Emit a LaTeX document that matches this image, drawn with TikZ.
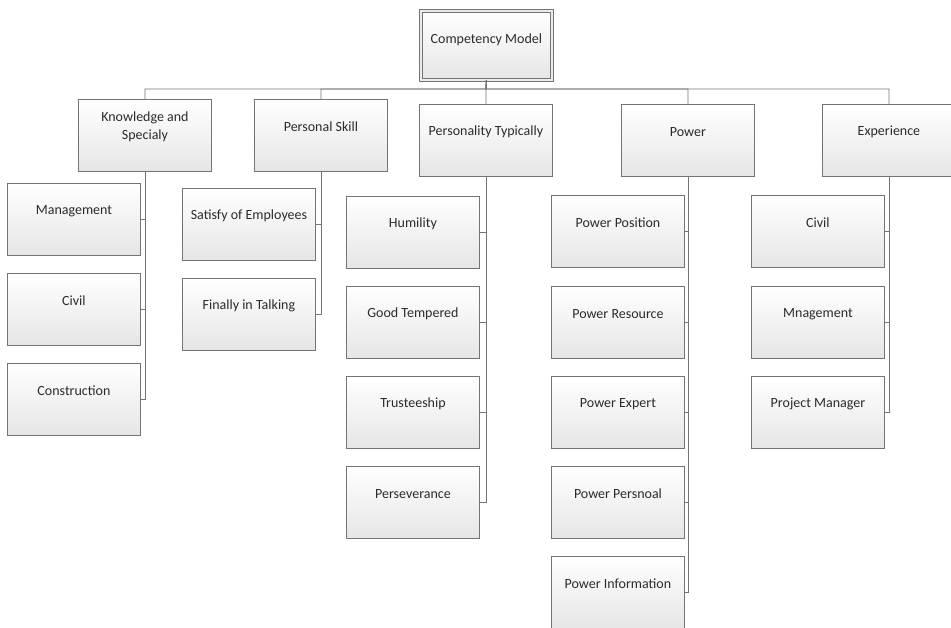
\documentclass[tikz,border=0pt]{standalone}
\usepackage{fontspec}
\setmainfont{Carlito}
\definecolor{edgec}{HTML}{747474}
\definecolor{txtc}{HTML}{2B2B2B}
\tikzset{
  box/.style={draw=edgec, line width=0.9pt, top color=white, bottom color=black!10,
    minimum width=133pt, minimum height=72pt, inner sep=0pt, anchor=north west},
  rootbox/.style={box, double=white!92!black, double distance=1.8pt, line width=0.8pt, minimum width=131pt, minimum height=69pt},
  lab/.style={anchor=center, yshift=-28pt, text=txtc, font=\fontsize{14}{18}\selectfont, align=center, inner sep=0pt},
  link/.style={draw=edgec, line width=0.9pt}
}
\begin{document}
\begin{tikzpicture}[x=1pt,y=-1pt]
\useasboundingbox (0,0) rectangle (951,627);
\clip (0,0) rectangle (951,627);
% root
\node[rootbox, label={[lab,yshift=-1pt]north:Competency Model}] (root) at (420.5,10.5) {};
% level 1
\node[box, label={[lab]north:{Knowledge and\\Specialy}}] (k) at (78,99) {};
\node[box, label={[lab]north:Personal Skill}] (ps) at (254,99) {};
\node[box, label={[lab]north:Personality Typically}] (pt) at (419,104) {};
\node[box, label={[lab]north:Power}] (pw) at (621,104) {};
\node[box, label={[lab]north:Experience}] (ex) at (822,104) {};
% knowledge children
\node[box, label={[lab]north:Management}] (k1) at (7,183) {};
\node[box, label={[lab]north:Civil}] (k2) at (7,273) {};
\node[box, label={[lab]north:Construction}] (k3) at (7,363) {};
% personal skill children
\node[box, label={[lab]north:Satisfy of Employees}] (ps1) at (182,188) {};
\node[box, label={[lab]north:Finally in Talking}] (ps2) at (182,278) {};
% personality children
\node[box, label={[lab]north:Humility}] (pt1) at (346,196) {};
\node[box, label={[lab]north:Good Tempered}] (pt2) at (346,286) {};
\node[box, label={[lab]north:Trusteeship}] (pt3) at (346,376) {};
\node[box, label={[lab]north:Perseverance}] (pt4) at (346,466) {};
% power children
\node[box, label={[lab]north:Power Position}] (pw1) at (551,195) {};
\node[box, label={[lab]north:Power Resource}] (pw2) at (551,286) {};
\node[box, label={[lab]north:Power Expert}] (pw3) at (551,376) {};
\node[box, label={[lab]north:Power Persnoal}] (pw4) at (551,466) {};
\node[box, label={[lab]north:Power Information}] (pw5) at (551,556) {};
% experience children
\node[box, label={[lab]north:Civil}] (ex1) at (751,195) {};
\node[box, label={[lab]north:Mnagement}] (ex2) at (751,286) {};
\node[box, label={[lab]north:Project Manager}] (ex3) at (751,376) {};
% connectors
\coordinate (bus) at (486,89);
\foreach \c in {k,ps,pt,pw,ex}{
  \draw[link] (root.south) -- (bus) -| (\c.north);
}
\foreach \c in {k1,k2,k3}{\draw[link] (k.south) |- (\c.east);}
\foreach \c in {ps1,ps2}{\draw[link] (ps.south) |- (\c.east);}
\foreach \c in {pt1,pt2,pt3,pt4}{\draw[link] (pt.south) |- (\c.east);}
\foreach \c in {pw1,pw2,pw3,pw4,pw5}{\draw[link] (pw.south) |- (\c.east);}
\foreach \c in {ex1,ex2,ex3}{\draw[link] (ex.south) |- (\c.east);}
\end{tikzpicture}
\end{document}
